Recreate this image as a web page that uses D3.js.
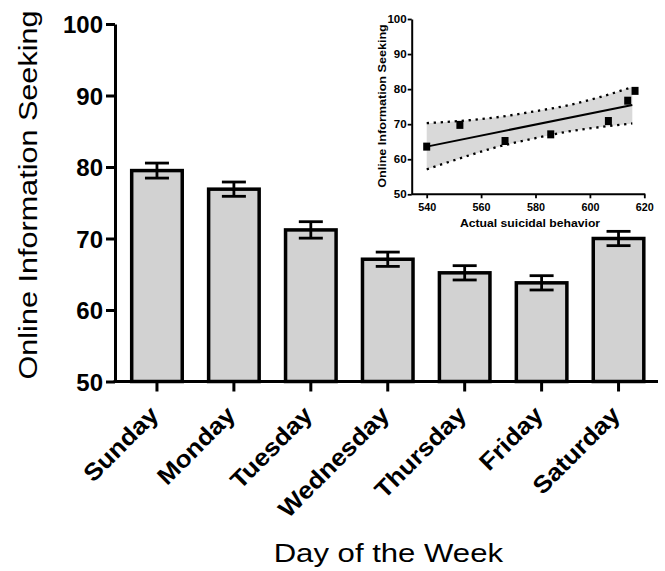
<!DOCTYPE html>
<html><head><meta charset="utf-8">
<script src="https://cdn.jsdelivr.net/npm/d3@7"></script>
<style>
body{margin:0;background:#fff}
svg{display:block}
text{font-family:"Liberation Sans",Arial,sans-serif;fill:#000}
</style>
</head><body><svg id="c" width="665" height="571"></svg>
<script>
// ---- main chart data ----
const days = ["Sunday","Monday","Tuesday","Wednesday","Thursday","Friday","Saturday"];
const means = [79.5, 76.9, 71.2, 67.1, 65.2, 63.8, 70.0];
const sems = [1.05, 1.0, 1.15, 1.0, 1.0, 1.0, 1.0];
const yTicks = [50, 60, 70, 80, 90, 100];
// ---- inset data ----
const insetX = [540, 552.2, 568.8, 585.6, 606.8, 613.9, 616.6];
const insetY = [63.6, 69.8, 65.2, 67.1, 70.9, 76.7, 79.5];
const fitX = [540, 615.6];
const fitY = [63.6, 75.5];
const bandX = [540, 552, 565, 580, 592, 604, 615.6];
const bandUpper = [70.3, 70.9, 71.9, 73.7, 75.4, 77.8, 80.6];
const bandLower = [57.1, 60.2, 63.3, 66.0, 67.9, 69.2, 70.2];
const insetXTicks = [540, 560, 580, 600, 620];
const insetYTicks = [50, 60, 70, 80, 90, 100];

const FONT = '"Liberation Sans",Arial,sans-serif';
const svg = d3.select("#c");
svg.append("rect").attr("width",665).attr("height",571).attr("fill","#fff");

// ---- main scales ----
const x = d3.scaleBand().domain(days).range([118.5, 657]).paddingInner(0.343).paddingOuter(0.1715);
const y = d3.scaleLinear().domain([50, 100]).range([381.5, 24]);
const AX = 115, AY = 381.5;

// bars
svg.append("g").selectAll("rect").data(days).join("rect")
  .attr("x", d => x(d)).attr("width", x.bandwidth())
  .attr("y", (d,i) => y(means[i])).attr("height", (d,i) => AY - y(means[i]))
  .attr("fill", "#d2d2d2").attr("stroke", "#000").attr("stroke-width", 3.5);

// error bars
const eb = svg.append("g").attr("stroke","#000").attr("stroke-width",2.8);
days.forEach((d,i) => {
  const cx = x(d) + x.bandwidth()/2;
  eb.append("line").attr("x1",cx).attr("x2",cx).attr("y1",y(means[i]-sems[i])).attr("y2",y(means[i]+sems[i]));
  [means[i]-sems[i], means[i]+sems[i]].forEach(v => {
    eb.append("line").attr("x1",cx-12).attr("x2",cx+12).attr("y1",y(v)).attr("y2",y(v));
  });
});

// y axis
const gy = svg.append("g").attr("transform",`translate(${AX},0)`)
  .call(d3.axisLeft(y).tickValues(yTicks).tickSize(9).tickSizeOuter(0).tickPadding(3));
gy.select(".domain").attr("stroke-width",3);
gy.selectAll(".tick line").attr("stroke-width",3);
gy.selectAll(".tick text").attr("font-size",24).attr("font-weight","bold").attr("dy","0.36em")
  .attr("font-family",FONT);

// x axis
svg.append("line").attr("x1",AX-1.5).attr("x2",658).attr("y1",AY).attr("y2",AY)
  .attr("stroke","#000").attr("stroke-width",3);
const gx = svg.append("g").attr("transform",`translate(0,${AY})`)
  .call(d3.axisBottom(x).tickSize(10).tickSizeOuter(0));
gx.select(".domain").remove();
gx.selectAll(".tick line").attr("stroke-width",3);
gx.selectAll(".tick text")
  .attr("font-size",24).attr("font-weight","bold").attr("font-family",FONT)
  .attr("x",0).attr("y",0).attr("dy",0).attr("text-anchor","end")
  .attr("transform","translate(3,35) rotate(-45) scale(1.09,1)");

// axis titles
svg.append("text").attr("transform","translate(37,195) rotate(-90) scale(1.2,1)")
  .attr("text-anchor","middle").attr("font-size",25.5).text("Online Information Seeking");
svg.append("text").attr("transform","translate(388.3,561.7) scale(1.22,1)")
  .attr("text-anchor","middle").attr("font-size",25.5).text("Day of the Week");

// ---- inset ----
const xi = d3.scaleLinear().domain([540, 620]).range([426.7, 644.3]);
const yi = d3.scaleLinear().domain([50, 100]).range([194.3, 19]);
const IX = 411.7, IY = 194.3;
const gi = svg.append("g");

const bandData = bandX.map((v,i) => ({x:v, u:bandUpper[i], l:bandLower[i]}));
gi.append("path").datum(bandData)
  .attr("d", d3.area().x(d => xi(d.x)).y0(d => yi(d.l)).y1(d => yi(d.u)).curve(d3.curveMonotoneX))
  .attr("fill","#d9d9d9");
["u","l"].forEach(k => {
  gi.append("path").datum(bandData)
    .attr("d", d3.line().x(d => xi(d.x)).y(d => yi(d[k])).curve(d3.curveMonotoneX))
    .attr("fill","none").attr("stroke","#000").attr("stroke-width",2.3).attr("stroke-dasharray","2.3,4.7");
});
gi.append("path").datum(fitX.map((v,i)=>[v,fitY[i]]))
  .attr("d", d3.line().x(d => xi(d[0])).y(d => yi(d[1])))
  .attr("stroke","#000").attr("stroke-width",2).attr("fill","none");
gi.append("g").selectAll("rect").data(insetX).join("rect")
  .attr("x", d => xi(d)-3.5).attr("y", (d,i) => yi(insetY[i])-4)
  .attr("width",7).attr("height",8).attr("fill","#000");

const giy = gi.append("g").attr("transform",`translate(${IX},0)`)
  .call(d3.axisLeft(yi).tickValues(insetYTicks).tickSize(4).tickSizeOuter(0).tickPadding(1));
giy.select(".domain").attr("stroke-width",2);
giy.selectAll(".tick line").attr("stroke-width",1.8);
giy.selectAll(".tick text").attr("font-size",10.5).attr("font-weight","bold")
  .attr("font-family",FONT)
  .attr("x",0).attr("transform","translate(-5,0) scale(1.1,1)").attr("dy","0.35em");

const gix = gi.append("g").attr("transform",`translate(0,${IY})`)
  .call(d3.axisBottom(xi).tickValues(insetXTicks).tickSize(4).tickSizeOuter(0));
gix.select(".domain").attr("stroke-width",2).attr("d",`M${IX},0H${xi(620)+1}`);
gix.selectAll(".tick line").attr("stroke-width",1.8);
gix.selectAll(".tick text").attr("font-size",10).attr("font-weight","bold")
  .attr("font-family",FONT)
  .attr("y",0).attr("dy",0).attr("transform",`translate(0,${(210.7-IY).toFixed(1)}) scale(1.08,1)`);

gi.append("text").attr("transform","translate(386,106) rotate(-90) scale(1.2,1)")
  .attr("text-anchor","middle").attr("font-size",10.5).attr("font-weight","bold").text("Online Information Seeking");
gi.append("text").attr("transform","translate(530,226.5) scale(1.22,1)")
  .attr("text-anchor","middle").attr("font-size",10).attr("font-weight","bold").text("Actual suicidal behavior");
</script>
</body></html>
